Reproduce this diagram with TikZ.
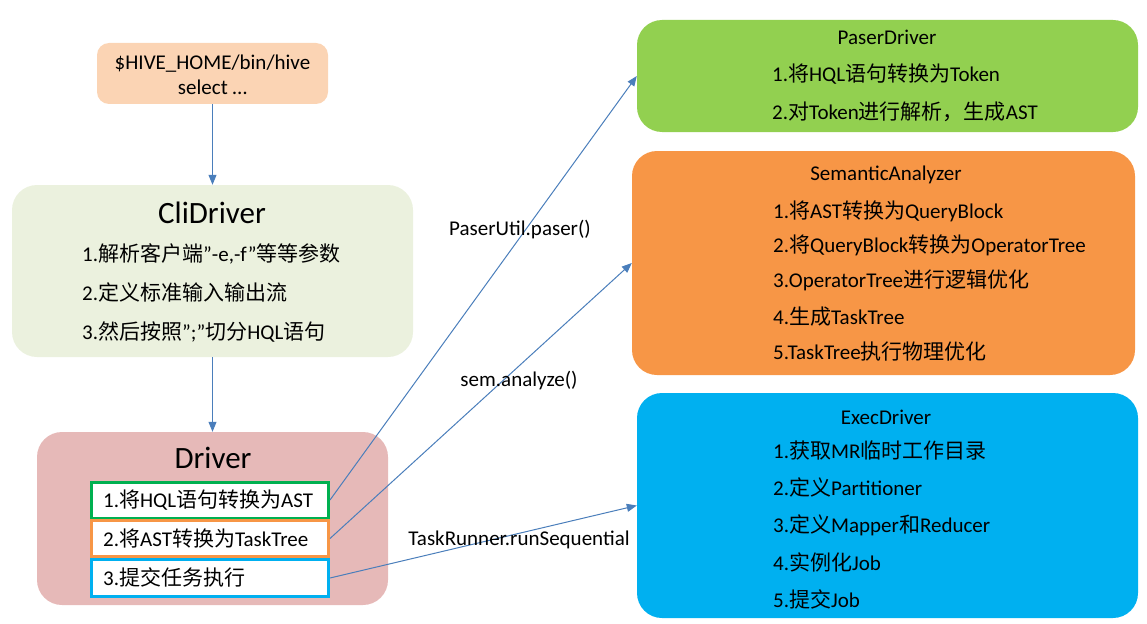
\documentclass[tikz,border=0pt]{standalone}
\usepackage{fontspec}
\setmainfont{Carlito}
\newfontfamily\cjk{Noto Sans CJK SC}
\newcommand\zh[1]{{\cjk #1}}
\usetikzlibrary{arrows.meta}
\definecolor{hivefill}{HTML}{FBD4B4}
\definecolor{clifill}{HTML}{EBF1DE}
\definecolor{drvfill}{HTML}{E6B9B8}
\definecolor{pasfill}{HTML}{92D050}
\definecolor{semfill}{HTML}{F79646}
\definecolor{exefill}{HTML}{00B0F0}
\definecolor{arrowc}{HTML}{4A7EBB}
\definecolor{grnb}{HTML}{00B050}
\tikzset{
  panel/.style={draw=none, rounded corners=25pt, inner sep=0pt},
  item/.style={draw, line width=3pt, fill=white, inner sep=0pt},
  txt/.style={inner sep=0pt, font=\fontsize{21}{24.5}\selectfont, text height=17pt, text depth=3pt},
  ttl/.style={inner sep=0pt, font=\fontsize{31}{34}\selectfont},
  conn/.style={draw=arrowc, line width=1pt, -{Triangle[length=10pt,width=8pt]}},
}
\begin{document}
\begin{tikzpicture}[x=1pt,y=-1pt]
\useasboundingbox (0,0) rectangle (1147,623);
% left column
\node[panel, rounded corners=12pt, fill=hivefill, minimum width=231pt, minimum height=61pt] (hive) at (212.5,73.5) {};
\node[txt, align=center, text height=, text depth=] (hivet) at (212.5,75) {\$HIVE\_HOME/bin/hive\\select …};
\node[panel, fill=clifill, minimum width=401pt, minimum height=172pt] (cli) at (212.5,271) {};
\node[ttl] (clit) at (212,213) {CliDriver};
\node[txt, anchor=west] (c1) at (82,254) {1.\zh{解析客户端}”-e,-f”\zh{等等参数}};
\node[txt, anchor=west] (c2) at (82,293) {2.\zh{定义标准输入输出流}};
\node[txt, anchor=west] (c3) at (82,332) {3.\zh{然后按照}”;”\zh{切分}HQL\zh{语句}};
\node[panel, fill=drvfill, minimum width=351pt, minimum height=173pt] (drv) at (212.5,518.5) {};
\node[ttl] (drvt) at (213,458) {Driver};
\node[item, draw=grnb, minimum width=237pt, minimum height=36pt] (d1) at (210,500) {};
\node[item, draw=semfill, minimum width=237pt, minimum height=36pt] (d2) at (210,538.5) {};
\node[item, draw=exefill, minimum width=237pt, minimum height=37pt] (d3) at (210,578) {};
\node[txt, anchor=west] (d1t) at (103,500) {1.\zh{将}HQL\zh{语句转换为}AST};
\node[txt, anchor=west] (d2t) at (103,539) {2.\zh{将}AST\zh{转换为}TaskTree};
\node[txt, anchor=west] (d3t) at (103,578) {3.\zh{提交任务执行}};
\draw[conn] (hive.south) -- (cli.north);
\draw[conn] (cli.south) -- (drv.north);
% right column
\node[panel, fill=pasfill, minimum width=501pt, minimum height=112pt] (pas) at (887.5,76) {};
\node[txt] (past) at (887,38) {PaserDriver};
\node[txt, anchor=west] (p1) at (772,75) {1.\zh{将}HQL\zh{语句转换为}Token};
\node[txt, anchor=west] (p2) at (772,113) {2.\zh{对}Token\zh{进行解析，生成}AST};
\node[panel, fill=semfill, minimum width=503pt, minimum height=224pt] (sem) at (883.5,263) {};
\node[txt] (semt) at (886,173) {SemanticAnalyzer};
\node[txt, anchor=west] (s1) at (773,211) {1.\zh{将}AST\zh{转换为}QueryBlock};
\node[txt, anchor=west] (s2) at (773,245) {2.\zh{将}QueryBlock\zh{转换为}OperatorTree};
\node[txt, anchor=west] (s3) at (773,280) {3.OperatorTree\zh{进行逻辑优化}};
\node[txt, anchor=west] (s4) at (773,317) {4.\zh{生成}TaskTree};
\node[txt, anchor=west] (s5) at (773,352) {5.TaskTree\zh{执行物理优化}};
\node[panel, fill=exefill, minimum width=501pt, minimum height=225pt] (exe) at (887.5,505.5) {};
\node[txt] (exet) at (886,417) {ExecDriver};
\node[txt, anchor=west] (e1) at (773,451) {1.\zh{获取}MR\zh{临时工作目录}};
\node[txt, anchor=west] (e2) at (773,488) {2.\zh{定义}Partitioner};
\node[txt, anchor=west] (e3) at (773,525) {3.\zh{定义}Mapper\zh{和}Reducer};
\node[txt, anchor=west] (e4) at (773,563) {4.\zh{实例化}Job};
\node[txt, anchor=west] (e5) at (773,600) {5.\zh{提交}Job};
% connectors
\draw[conn] (d1.east) -- (pas.west);
\draw[conn] (d2.east) -- (sem.west);
\draw[conn] (d3.east) -- (exe.west);
\node[txt] (l1) at (520,228) {PaserUtil.paser()};
\node[txt] (l2) at (519,379) {sem.analyze()};
\node[txt] (l3) at (519,538) {TaskRunner.runSequential};
\end{tikzpicture}
\end{document}
